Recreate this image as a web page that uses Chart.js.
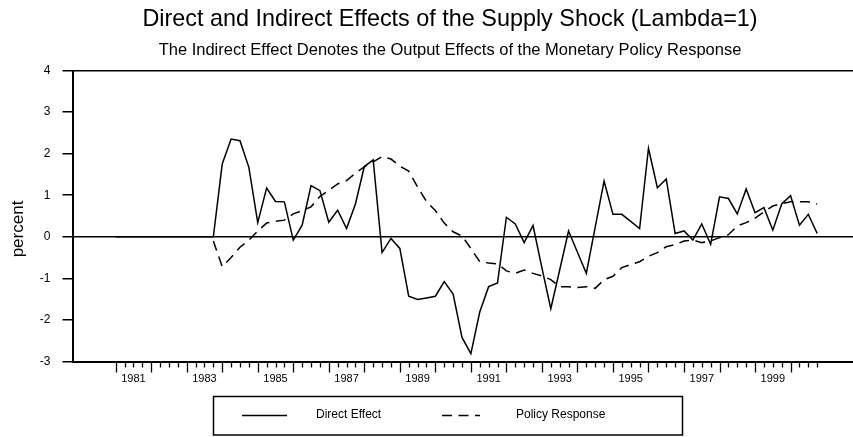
<!DOCTYPE html>
<html>
<head>
<meta charset="utf-8">
<script src="https://cdn.jsdelivr.net/npm/chart.js@4.4.1/dist/chart.umd.min.js"></script>
<style>
  html, body { margin: 0; padding: 0; background: #fff; }
</style>
</head>
<body>
<canvas id="chart" width="853" height="437"></canvas>
<script>
/* ---- data (quarterly, 1981Q1 .. 2000Q4) ---- */
var startYear = 1981;
var yearLabels = ['1981', '1983', '1985', '1987', '1989', '1991', '1993', '1995', '1997', '1999'];
var yTicks = [-3, -2, -1, 0, 1, 2, 3, 4];
var seriesNames = ['Direct Effect', 'Policy Response'];
var titleText = 'Direct and Indirect Effects of the Supply Shock (Lambda=1)';
var subtitleText = 'The Indirect Effect Denotes the Output Effects of the Monetary Policy Response';
var yTitle = 'percent';

var directEffect = [
  0, 0, 0, 0, 0, 0, 0, 0, 0, 0, 0, 0,
  1.75, 2.35, 2.31, 1.67, 0.34, 1.17, 0.85, 0.84, -0.08, 0.28,
  1.23, 1.11, 0.35, 0.64, 0.20, 0.79, 1.69, 1.85, -0.38, -0.04,
  -0.28, -1.43, -1.51, -1.47, -1.43, -1.08, -1.38, -2.42, -2.81, -1.81,
  -1.20, -1.11, 0.47, 0.31, -0.14, 0.27, -0.75, -1.73, -0.80, 0.14,
  -0.37, -0.88, 0.23, 1.34, 0.54, 0.54, 0.37, 0.20, 2.13, 1.18,
  1.39, 0.08, 0.14, -0.08, 0.31, -0.18, 0.96, 0.92, 0.55, 1.15,
  0.58, 0.70, 0.16, 0.79, 0.99, 0.28, 0.54, 0.08
];

var policyResponse = [
  null, null, null, null, null, null, null, null, null, null, null, -0.10,
  -0.72, -0.50, -0.25, -0.08, 0.14, 0.33, 0.37, 0.40, 0.55, 0.63,
  0.72, 0.97, 1.12, 1.27, 1.35, 1.53, 1.68, 1.80, 1.93, 1.87,
  1.70, 1.58, 1.20, 0.85, 0.63, 0.33, 0.12, 0.02, -0.28, -0.60,
  -0.63, -0.65, -0.82, -0.88, -0.80, -0.88, -0.94, -1.03, -1.20, -1.20,
  -1.22, -1.20, -1.24, -1.03, -0.95, -0.74, -0.67, -0.60, -0.47, -0.38,
  -0.24, -0.19, -0.10, -0.08, -0.14, -0.10, -0.02, 0.05, 0.26, 0.34,
  0.45, 0.60, 0.74, 0.80, 0.84, 0.84, 0.84, 0.79
];

var FONT = '"Liberation Sans", Arial, sans-serif';

function toPoints(arr) {
  return arr.map(function (v, i) { return { x: i, y: v }; });
}

// extra drawing: quarter ticks, titles, y title, boxed legend
var decor = {
  id: 'decor',
  afterDraw: function (chart) {
    var ctx = chart.ctx;
    var xs = chart.scales.x;
    var area = chart.chartArea;
    ctx.save();
    ctx.strokeStyle = '#000';
    ctx.fillStyle = '#000';

    // quarterly tick marks, longer at the start of each year
    ctx.lineWidth = 1.3;
    for (var i = 0; i < directEffect.length; i++) {
      var px = Math.round(xs.getPixelForValue(i)) + 0.5;
      var len = (i % 4 === 0) ? 11 : 6;
      ctx.beginPath();
      ctx.moveTo(px, area.bottom);
      ctx.lineTo(px, area.bottom + len);
      ctx.stroke();
    }

    // titles
    ctx.textAlign = 'center';
    ctx.textBaseline = 'alphabetic';
    ctx.font = '23.4px ' + FONT;
    ctx.fillText(titleText, 450, 26);
    ctx.font = '16.5px ' + FONT;
    ctx.fillText(subtitleText, 450, 55);

    // y axis title
    ctx.save();
    ctx.translate(22.5, 229);
    ctx.rotate(-Math.PI / 2);
    ctx.font = '17px ' + FONT;
    ctx.fillText(yTitle, 0, 0);
    ctx.restore();

    // legend
    ctx.lineWidth = 1.5;
    ctx.strokeRect(213.5, 396.5, 469, 38.5);
    var items = [
      { x0: 242, x1: 287, tx: 316 },
      { x0: 442, x1: 480, tx: 516 }
    ];
    ctx.font = '12px ' + FONT;
    ctx.textAlign = 'left';
    ctx.textBaseline = 'middle';
    chart.data.datasets.forEach(function (ds, k) {
      var it = items[k];
      ctx.save();
      ctx.lineWidth = ds.borderWidth;
      ctx.setLineDash(ds.borderDash || []);
      ctx.beginPath();
      ctx.moveTo(it.x0, 415.5);
      ctx.lineTo(it.x1, 415.5);
      ctx.stroke();
      ctx.restore();
      ctx.fillText(ds.label, it.tx, 415);
    });
    ctx.restore();
  }
};

new Chart(document.getElementById('chart'), {
  type: 'line',
  data: {
    datasets: [
      {
        label: seriesNames[0],
        data: toPoints(directEffect),
        borderColor: '#000',
        borderWidth: 1.5,
        pointRadius: 0,
        tension: 0,
        fill: false
      },
      {
        label: seriesNames[1],
        data: toPoints(policyResponse),
        borderColor: '#000',
        borderWidth: 1.5,
        borderDash: [10, 6.5],
        pointRadius: 0,
        tension: 0,
        fill: false
      }
    ]
  },
  options: {
    responsive: false,
    devicePixelRatio: 1,
    animation: false,
    layout: { padding: { top: 70.5, bottom: 0, left: 0, right: 0 } },
    plugins: {
      legend: { display: false },
      tooltip: { enabled: false },
      title: { display: false }
    },
    scales: {
      x: {
        type: 'linear',
        min: -4.86,
        max: 83.03,
        afterBuildTicks: function (s) {
          s.ticks = yearLabels.map(function (y) { return { value: (Number(y) - startYear) * 4 + 2 }; });
        },
        ticks: {
          callback: function (v, i) { return yearLabels[i]; },
          font: { family: FONT, size: 11 },
          color: '#000',
          padding: 11,
          maxRotation: 0,
          autoSkip: false
        },
        grid: { display: false, drawTicks: false },
        border: { display: true, color: '#000', width: 2 },
        afterFit: function (s) { s.height = 75.5; }
      },
      y: {
        min: -3,
        max: 4,
        afterBuildTicks: function (s) {
          s.ticks = yTicks.map(function (v) { return { value: v }; });
        },
        ticks: {
          font: { family: FONT, size: 12 },
          color: '#000',
          padding: 12
        },
        grid: {
          color: function (c) {
            return (c.tick && (c.tick.value === 0 || c.tick.value === 4)) ? '#000' : 'rgba(0,0,0,0)';
          },
          lineWidth: 1.5,
          tickColor: '#000',
          tickWidth: 1.5,
          tickLength: 10,
          drawTicks: true
        },
        border: { display: true, color: '#000', width: 2 },
        afterFit: function (s) { s.width = 72.5; }
      }
    }
  },
  plugins: [decor]
});
</script>
</body>
</html>
